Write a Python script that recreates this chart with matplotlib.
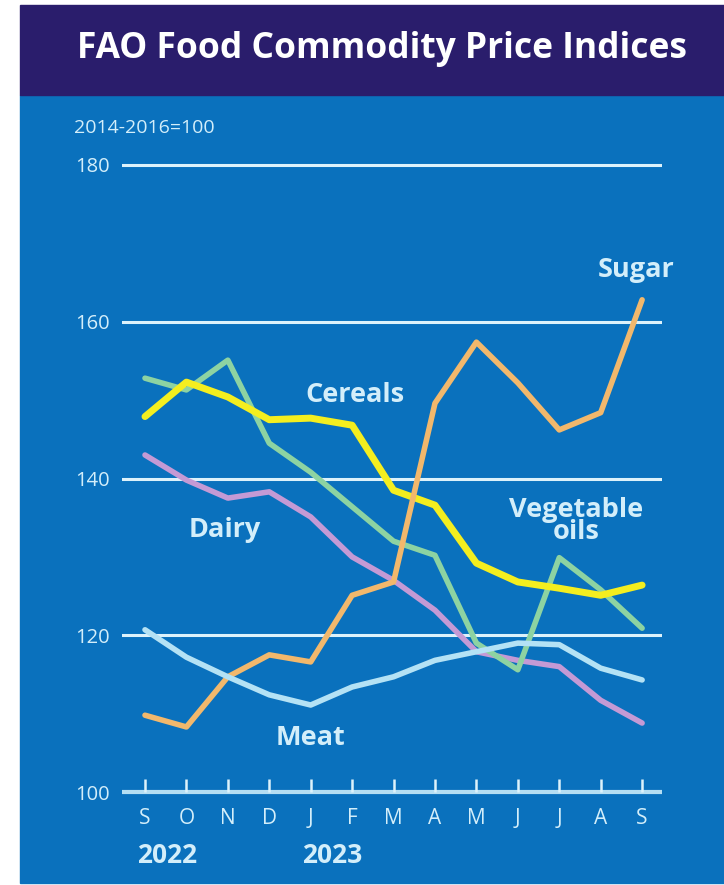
import matplotlib.pyplot as plt
from matplotlib.patches import Rectangle

# Data (FAO indices, 2014-2016=100), Sep 2022 .. Sep 2023
months = ['S', 'O', 'N', 'D', 'J', 'F', 'M', 'A', 'M', 'J', 'J', 'A', 'S']
cereals = [147.9, 152.3, 150.4, 147.5, 147.7, 146.8, 138.5, 136.6, 129.2, 126.8, 126.0, 125.1, 126.4]
veg_oils = [152.8, 151.3, 155.1, 144.5, 140.8, 136.4, 132.0, 130.2, 119.0, 115.6, 129.9, 125.8, 120.9]
dairy = [143.0, 139.8, 137.5, 138.3, 135.1, 130.0, 127.0, 123.2, 117.9, 116.8, 116.0, 111.7, 108.8]
meat = [120.7, 117.2, 114.7, 112.4, 111.1, 113.4, 114.7, 116.8, 117.9, 119.0, 118.8, 115.8, 114.3]
sugar = [109.8, 108.3, 114.7, 117.5, 116.6, 125.1, 126.8, 149.6, 157.4, 152.2, 146.2, 148.4, 162.8]
yticks = [100, 120, 140, 160, 180]
years = ['2022', '2023']

bg_blue = '#0A71BD'
navy = '#2A1D6C'
txt = '#D3EEFA'
font = 'Open Sans'

fig = plt.figure(figsize=(7.24, 8.85), dpi=100)
fig.patch.set_facecolor('white')

# panels
fig.add_artist(Rectangle((20 / 724, 2 / 885), 1 - 20 / 724, (790 - 2) / 885,
                         transform=fig.transFigure, color=bg_blue, zorder=0))
fig.add_artist(Rectangle((20 / 724, 790 / 885), 1 - 20 / 724, 90 / 885,
                         transform=fig.transFigure, color=navy, zorder=0))
fig.text(0.527, 836 / 885, 'FAO Food Commodity Price Indices', color='white',
         fontsize=25.5, fontweight='bold', family=font, ha='center', va='center')
fig.text(74 / 724, 757 / 885, '2014-2016=100', color=txt, fontsize=14,
         family=font, ha='left', va='center')

ax = fig.add_axes([122 / 724, 77.3 / 885, 540 / 724, 658.4 / 885])
ax.set_facecolor('none')
x = list(range(len(months)))
ax.set_xlim(-0.555, 12.48)
ax.set_ylim(98, 182)
for s in ax.spines.values():
    s.set_visible(False)

# gridlines
for v in yticks[1:]:
    ax.axhline(v, color='#DDF2FB', lw=2.2, zorder=1)
ax.axhline(100, color='#B5DEF3', lw=3, zorder=1)
ax.vlines(x, 100, 101.6, color='#DDF2FB', lw=1.8, zorder=1)

ax.plot(x, dairy, color='#C49AD5', lw=4, solid_capstyle='round', zorder=2)
ax.plot(x, veg_oils, color='#8DD3A2', lw=4, solid_capstyle='round', zorder=3)
ax.plot(x, cereals, color='#F4EE1F', lw=5, solid_capstyle='round', zorder=4)
ax.plot(x, sugar, color='#F2B86C', lw=4, solid_capstyle='round', zorder=5)
ax.plot(x, meat, color='#B4E2F5', lw=4, solid_capstyle='round', zorder=6)

# series labels
lab = dict(color=txt, fontsize=19.5, fontweight='bold', family=font,
           ha='center', va='center')
ax.text(5.07, 150.6, 'Cereals', **lab)
ax.text(1.93, 133.4, 'Dairy', **lab)
ax.text(10.4, 134.6, 'Vegetable\noils', linespacing=0.8, **lab)
ax.text(11.85, 166.6, 'Sugar', **lab)
ax.text(4.0, 106.9, 'Meat', **lab)

ax.set_yticks(yticks)
ax.set_yticklabels([str(v) for v in yticks], color=txt, fontsize=14.5, family=font)
ax.set_xticks(x)
ax.set_xticklabels(months, color=txt, fontsize=15, family=font)
ax.tick_params(length=0)
ax.tick_params(axis='y', pad=9)
ax.tick_params(axis='x', pad=0)

ax.text(-0.2, 91.9, years[0], color=txt, fontsize=19, fontweight='bold',
        family=font, ha='left', va='center')
ax.text(3.8, 91.9, years[1], color=txt, fontsize=19, fontweight='bold',
        family=font, ha='left', va='center')

fig.savefig('out.png', dpi=100, facecolor='white')
